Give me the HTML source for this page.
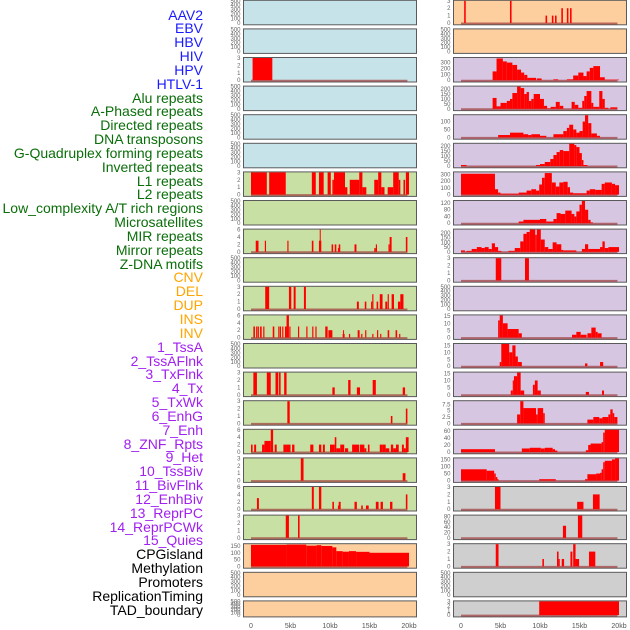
<!DOCTYPE html>
<html><head><meta charset="utf-8"><style>
html,body{margin:0;padding:0;background:#fff;width:630px;height:630px;overflow:hidden}
#labels div{position:absolute;right:427px;font:14px "Liberation Sans",sans-serif;white-space:nowrap;line-height:14px}
</style></head><body>
<div id="labels"></div>
<svg id="chart" width="630" height="630" style="position:absolute;left:0;top:0"></svg>
<script>
const labelNames=["AAV2","EBV","HBV","HIV","HPV","HTLV-1","Alu repeats","A-Phased repeats","Directed repeats","DNA transposons","G-Quadruplex forming repeats","Inverted repeats","L1 repeats","L2 repeats","Low_complexity A/T rich regions","Microsatellites","MIR repeats","Mirror repeats","Z-DNA motifs","CNV","DEL","DUP","INS","INV","1_TssA","2_TssAFlnk","3_TxFlnk","4_Tx","5_TxWk","6_EnhG","7_Enh","8_ZNF_Rpts","9_Het","10_TssBiv","11_BivFlnk","12_EnhBiv","13_ReprPC","14_ReprPCWk","15_Quies","CPGisland","Methylation","Promoters","ReplicationTiming","TAD_boundary"];
const labelGroups=[6,13,5,15,5];
const groupColors=["#1a1aff","#0a6e0a","#ffa500","#a020f0","#000000"];
const xTicks=[0,5,10,15,20];
const xTickLabels=["0","5kb","10kb","15kb","20kb"];
const emptyTicks=[0,100,200,300,400,500];
const leftColors=["#c7e3ea","#c7e3ea","#c7e3ea","#c7e3ea","#c7e3ea","#c7e3ea","#c8e0a3","#c8e0a3","#c8e0a3","#c8e0a3","#c8e0a3","#c8e0a3","#c8e0a3","#c8e0a3","#c8e0a3","#c8e0a3","#c8e0a3","#c8e0a3","#c8e0a3","#fdcf9f","#fdcf9f","#fdcf9f"];
const rightColors=["#fdcf9f","#fdcf9f","#d6c6e2","#d6c6e2","#d6c6e2","#d6c6e2","#d6c6e2","#d6c6e2","#d6c6e2","#d6c6e2","#d6c6e2","#d6c6e2","#d6c6e2","#d6c6e2","#d6c6e2","#d6c6e2","#d6c6e2","#cfcfcf","#cfcfcf","#cfcfcf","#cfcfcf","#cfcfcf"];
// left-column data [startKb,endKb,value]
const L2=[[0.2,2.7,3]];
const L6=[[0,2.0,3],[2.3,4.4,3],[7.7,8.2,3],[8.6,9.2,3],[9.7,10.1,3],[10.3,10.5,2],[10.5,11.9,3],[11.9,12.2,1],[12.5,13.7,2],[13.7,14.1,3],[14.1,14.6,1],[15.6,16.1,2],[16.1,16.5,3],[16.5,16.9,1],[17.3,18.0,1],[18.0,18.7,3],[18.7,18.9,2],[19.3,19.5,2],[19.6,20,3]];
const L8=[[0.6,0.95,3],[1.75,1.9,3],[4.6,4.75,3],[7.7,7.9,3],[8.6,8.9,3],[8.7,8.8,6],[10.2,10.4,2],[10.6,10.8,2],[11.0,11.1,1],[11.1,11.3,2],[13.1,13.35,2],[15.6,15.8,1],[15.8,15.95,2],[17.4,17.55,2],[17.55,17.8,4],[19.6,19.8,4]];
const L10=[[1.8,2.3,3],[4.8,5.1,3],[5.4,5.65,3],[6.7,6.95,3],[13.4,13.65,1],[14.4,14.6,1],[15.2,15.35,1],[15.35,15.5,2],[15.9,16.1,1],[16.3,16.65,2],[17.0,17.25,1],[17.3,17.45,2],[17.8,18.1,2],[18.6,18.9,1],[18.9,19.3,2]];
const L11=[[0.3,0.5,3],[0.65,0.8,3],[0.85,1.0,3],[1.15,1.35,3],[1.55,1.7,3],[2.75,2.95,3],[3.45,3.6,3],[3.65,3.8,3],[3.95,4.1,3],[4.3,4.5,3],[4.5,4.8,6],[4.85,5.0,3],[5.95,6.1,3],[7.0,7.15,3],[7.75,7.9,3],[8.15,8.3,3],[9.4,9.7,3],[9.8,10.3,2],[11.6,11.85,1],[11.65,11.75,2],[12.4,12.55,1],[13.5,13.75,2],[13.95,14.1,1],[14.45,14.6,2],[15.35,15.5,1],[15.95,16.1,2],[16.35,16.5,1],[17.3,17.5,2],[18.3,18.5,2],[18.75,18.9,1]];
const L13=[[0.3,0.75,3],[2.0,2.5,3],[3.1,3.45,3],[3.55,3.75,3],[4.2,4.5,3],[10.3,10.6,1],[12.3,12.6,2],[13.4,13.8,1],[15.4,15.8,2],[19.2,19.5,1]];
const L14=[[4.6,4.9,3],[17.7,17.9,1],[19.6,19.8,2]];
const L15=[[0,0.2,2],[0.4,0.65,2],[1.4,1.7,2],[1.7,2.5,3],[2.5,2.8,6],[3.0,3.25,2],[4.1,4.5,2],[4.5,5.0,2],[5.2,5.5,2],[7.5,7.9,2],[8.6,8.9,2],[9.1,9.35,2],[10.0,10.6,2],[10.6,10.8,4],[10.8,11.3,1],[11.3,11.8,2],[11.9,12.3,1],[12.8,13.7,2],[13.8,14.35,2],[14.35,14.6,1],[14.8,15.0,2],[16.3,16.6,2],[16.6,17.05,2],[17.05,17.5,1],[17.7,18.0,2],[18.0,18.35,1],[18.35,18.7,2],[19.1,19.35,2],[19.35,19.6,1],[19.6,19.95,4]];
const L16=[[6.3,6.65,3],[19.2,19.55,1]];
const L17=[[0.75,1.0,3],[7.7,7.95,6],[8.6,8.9,6],[10.3,10.5,2],[11.0,11.1,1],[11.1,11.35,2],[13.1,13.4,2],[13.95,14.15,1],[14.55,14.9,1],[15.8,16.15,2],[16.4,16.7,2],[17.6,17.9,2],[19.6,19.8,4]];
const L18=[[4.4,4.8,3],[5.95,6.15,3]];
const L19=[[0,4.5,158],[4.5,7,160],[7,8.3,152],[8.3,8.9,156],[8.9,10.3,150],[10.3,10.8,140],[10.8,11.6,112],[11.6,12.4,108],[12.4,13.3,112],[13.3,15.0,107],[15.0,20.0,100]];
// right-column data
const R0=[[0.4,0.6,3],[6.2,6.4,3],[10.7,10.9,1],[11.5,11.7,1],[11.9,12.1,1],[12.7,12.9,2],[13.4,13.6,2],[13.8,14.0,2]];
const R2=[[4.0,4.5,150],[4.5,5.3,370],[5.3,5.8,320],[5.8,6.5,300],[6.5,7.1,260],[7.1,7.6,180],[7.6,8.0,130],[8.0,8.4,90],[8.4,9.5,40],[9.6,10.2,30],[11.7,12.3,15],[13.4,14.2,15],[14.2,14.85,80],[14.85,15.5,130],[15.5,15.9,70],[15.9,16.3,150],[16.3,16.75,210],[16.75,17.6,240],[17.6,18.2,50],[18.2,20,10]];
const R3=[[4.0,4.5,110],[4.5,5.0,25],[5.0,5.8,60],[5.8,6.2,80],[6.2,6.5,100],[6.5,7.1,160],[7.1,7.55,225],[7.55,8.0,210],[8.0,8.3,150],[8.3,8.6,170],[8.6,8.9,80],[8.9,9.2,100],[9.2,10.0,150],[10.0,10.5,100],[10.5,10.9,30],[10.9,11.35,5],[11.35,12.0,20],[12.0,12.5,70],[12.5,12.95,30],[14.0,14.4,70],[14.4,14.85,40],[14.85,15.35,10],[15.35,15.6,80],[15.6,15.9,130],[15.9,16.5,180],[16.5,16.75,60],[16.75,17.5,20],[17.5,17.9,180],[17.9,18.2,100],[18.2,18.65,10],[18.9,19.8,15]];
const R4=[[4.7,6.2,15],[6.2,7.9,30],[7.9,8.5,20],[8.5,8.9,15],[8.9,10.0,20],[10.0,10.8,10],[11.7,12.95,20],[12.95,13.4,40],[13.4,13.7,60],[13.7,14.2,80],[14.2,14.6,50],[14.6,15.0,30],[15.0,15.4,40],[15.4,15.7,100],[15.7,16.1,140],[16.1,16.5,90],[16.5,17.2,25],[17.2,17.6,10]];
const R5=[[0,0.7,10],[9.5,10.0,10],[10.0,10.6,20],[10.6,11.3,40],[11.3,11.7,70],[11.7,12.1,110],[12.1,12.5,140],[12.5,12.95,160],[12.95,13.7,150],[13.7,14.35,223],[14.35,14.6,210],[14.6,15.0,190],[15.0,15.3,130],[15.3,15.5,60],[15.5,16.0,10]];
const R6=[[0,4.3,310],[4.3,4.7,80],[4.7,5.0,30],[5.0,7.3,15],[7.3,8.3,30],[8.3,8.9,60],[8.9,9.5,80],[9.5,9.9,60],[9.9,10.25,150],[10.25,10.6,250],[10.6,11.5,320],[11.5,12.0,180],[12.0,12.45,120],[12.45,12.95,180],[12.95,13.5,190],[13.5,13.8,110],[13.8,14.2,30],[14.2,15.9,20],[15.9,16.3,60],[16.3,17.0,80],[17.0,17.8,70],[17.8,18.2,160],[18.2,19.1,180],[19.1,19.5,160],[19.5,20,140]];
const R7=[[7.3,7.9,10],[7.9,10.0,20],[10.0,10.8,25],[10.8,11.7,10],[11.7,12.1,25],[12.1,12.6,60],[12.6,13.2,55],[13.2,14.0,75],[14.0,14.35,55],[14.35,14.6,40],[14.6,15.0,70],[15.0,15.3,110],[15.3,15.7,132],[15.7,16.1,80],[16.1,16.4,20],[16.4,16.7,5]];
const R8=[[0,0.5,15],[0.7,1.35,10],[1.35,2.0,30],[2.0,2.6,50],[2.6,3.0,40],[3.0,3.5,50],[3.5,3.9,30],[3.9,4.3,90],[4.3,4.7,50],[4.7,5.1,10],[6.0,6.8,10],[6.8,7.5,40],[7.5,7.9,110],[7.9,8.3,190],[8.3,8.7,210],[8.7,9.4,235],[9.4,9.6,180],[9.6,10.1,235],[10.1,10.6,130],[10.6,11.05,50],[11.05,11.6,30],[11.6,12.1,100],[12.1,12.7,80],[12.7,12.95,20],[12.95,14.6,15],[15.3,15.7,30],[15.7,16.1,80],[16.1,17.6,30],[17.6,17.9,50],[17.9,18.2,110],[18.2,18.65,40],[18.65,20,50]];
const R9=[[4.4,5.1,3],[8.1,8.6,3]];
const R11=[[4.7,4.9,12],[4.9,5.3,15.5],[5.3,5.9,10],[5.9,7.3,6],[7.3,7.7,3],[14.05,14.6,2],[14.6,15.15,4],[15.15,15.9,2],[16.0,16.5,3],[16.5,17.05,7],[17.05,17.3,4],[17.3,17.8,3]];
const R12=[[4.9,5.1,3],[5.1,6.1,16],[6.1,6.5,10],[6.5,6.9,15],[6.9,7.2,7],[7.2,7.7,3],[15.7,16.0,2],[17.6,18.0,3]];
const R13=[[6.3,6.55,3],[6.55,6.7,10],[6.7,7.1,13],[7.1,7.55,15.5],[7.55,8.0,3],[9.1,9.35,7],[9.35,9.7,10],[9.7,10.1,3],[15.8,16.2,2],[17.85,18.1,3]];
const R14=[[7.1,7.5,3.5],[7.5,7.9,8.7],[7.9,9.5,6],[9.5,9.7,3.5],[9.7,10.4,6],[10.4,10.6,4],[16.0,16.75,1.5],[16.75,17.5,2.5],[17.5,17.9,2],[17.9,18.65,2.5],[18.65,18.9,3.5],[18.9,19.2,5.5],[19.2,19.4,4],[19.4,19.8,2.5]];
const R15=[[0,4.3,8],[7.7,8.7,10],[8.7,10.1,12],[10.1,10.6,10],[10.6,11.6,12],[11.6,11.9,8],[11.9,12.2,4],[15.8,16.1,5],[16.1,16.4,20],[16.4,17.8,24],[17.8,18.0,28],[18.0,18.2,55],[18.2,20,63]];
const R16=[[0,3.25,80],[3.25,4.2,70],[4.2,4.4,50],[4.4,4.6,25],[4.6,4.75,10],[9.9,12.0,10],[15.7,16.0,10],[16.0,17.1,45],[17.1,17.6,50],[17.6,17.8,55],[17.8,18.0,80],[18.0,18.2,130],[18.2,19.1,140],[19.1,19.5,150],[19.5,20,157]];
const R17=[[4.3,5.0,3],[14.7,15.5,1],[16.7,17.55,2]];
const R18=[[12.9,13.3,45],[14.8,15.35,83]];
const R19=[[4.4,4.75,3],[10.3,10.5,1],[12.15,12.35,2],[12.35,12.5,1],[12.75,13.05,1],[13.85,14.1,2],[14.2,14.5,3],[14.5,14.95,1],[16.2,17.0,2]];
const R21=[[9.9,20,3]];
// panel specs: [column,row,data,ymax,ticks]
const t3=[0,1,2,3],t6=[0,2,4,6];
const panelSpecs=[
[0,2,L2,3,t3],[0,6,L6,3,t3],[0,8,L8,6,t6],[0,10,L10,3,t3],[0,11,L11,6,t6],[0,13,L13,3,t3],[0,14,L14,3,t3],[0,15,L15,6,t6],[0,16,L16,3,t3],[0,17,L17,6,t6],[0,18,L18,3,t3],[0,19,L19,163,[0,50,100,150]],
[1,0,R0,3,t3],[1,2,R2,378,[0,100,200,300]],[1,3,R3,225,[0,50,100,150,200]],[1,4,R4,140,[0,50,100]],[1,5,R5,223,[0,50,100,150,200]],[1,6,R6,330,[0,100,200,300]],[1,7,R7,132,[0,40,80,120]],[1,8,R8,235,[0,50,100,150,200]],[1,9,R9,3,t3],[1,11,R11,15.5,[0,5,10,15]],[1,12,R12,16,[0,5,10,15]],[1,13,R13,15.5,[0,5,10,15]],[1,14,R14,8.7,[0,2.5,5,7.5]],[1,15,R15,63,[0,20,40,60]],[1,16,R16,157,[0,50,100,150]],[1,17,R17,3,t3],[1,18,R18,83,[0,20,40,60,80]],[1,19,R19,3,t3],[1,21,R21,3,t3]];

// labels
const lab=document.getElementById('labels');
let gi=0,gc=0;
labelNames.forEach((n,i)=>{
  const d=document.createElement('div');
  
  
  while(gc>=labelGroups[gi]){gc=0;gi++;}
  gc++;
  d.style.color=groupColors[gi];
  d.style.top=(15+i*13.84-7.5)+'px';
  d.textContent=n;lab.appendChild(d);
});
const NS='http://www.w3.org/2000/svg',svg=document.getElementById('chart');
function mk(tag,at,parent){const e=document.createElementNS(NS,tag);for(const k in at)e.setAttribute(k,at[k]);(parent||svg).appendChild(e);return e;}
const colX=[243,453],panelW=173,x0off=8,kbPx=7.9;
function rowTop(r){return r*28.6+0.3;}
function rowH(r){return r===21?16:24.5;}
function xScale(c,kb){return colX[c]+x0off+kb*kbPx;}
function yScale(r,ymax,v){const top=rowTop(r),h=rowH(r);const y0=top+h-1.8,y1=top+0.5;return y0-(v/ymax)*(y0-y1);}
const specMap={};panelSpecs.forEach(s=>specMap[s[0]+'-'+s[1]]=s);
for(let c=0;c<2;c++)for(let r=0;r<22;r++){
  const g=mk('g',{});
  
  
  const top=rowTop(r),h=rowH(r);
  const bg=mk('rect',{x:colX[c]+0.5,y:top,width:panelW,height:h,fill:(c?rightColors:leftColors)[r],stroke:'#5a5a5a','stroke-width':1},g);
  
  
  const s=specMap[c+'-'+r];
  const ymax=s?s[3]:500,ticks=s?s[4]:emptyTicks;
  ticks.forEach(t=>{
    const tx=mk('text',{x:colX[c]-2.5,y:yScale(r,ymax,t)+2,'text-anchor':'end','font-size':6,fill:'#666','font-family':'Liberation Sans, sans-serif'},g);
    
    
    tx.textContent=t;
  });
  if(s){
    const bl=mk('line',{x1:xScale(c,0),x2:xScale(c,19.8),y1:yScale(r,ymax,0)+0.5,y2:yScale(r,ymax,0)+0.5,stroke:'#a03a3a','stroke-opacity':0.7,'stroke-width':2},g);
    
    
    s[2].forEach(d=>{
      const ya=yScale(r,ymax,d[2]),yb=yScale(r,ymax,0);
      const b=mk('rect',{x:xScale(c,d[0]),y:ya,width:Math.max(1,xScale(c,d[1])-xScale(c,d[0])),height:yb-ya,fill:'#ff0000'},g);
      
      
    });
  }
}
for(let c=0;c<2;c++)xTicks.forEach((t,i)=>{
  const tx=mk('text',{x:xScale(c,t),y:628,'text-anchor':'middle','font-size':7,fill:'#555','font-family':'Liberation Sans, sans-serif'});
  
  
  tx.textContent=xTickLabels[i];
});
</script>
</body></html>
